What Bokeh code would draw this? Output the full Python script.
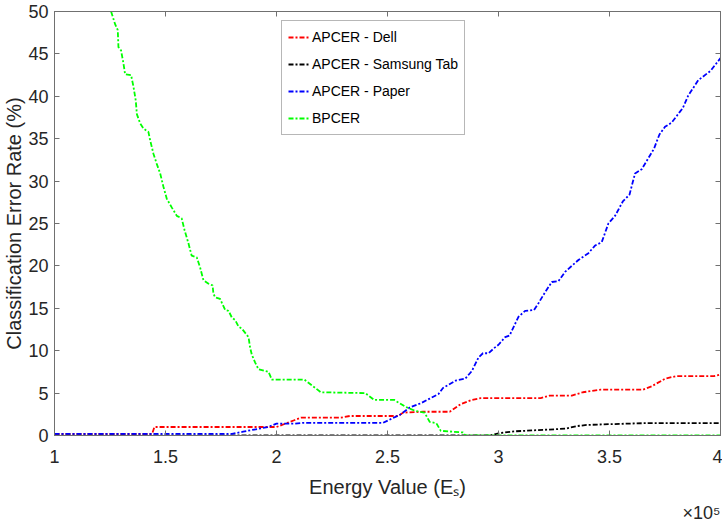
from bokeh.plotting import figure
from bokeh.models import LinearAxis, FixedTicker, CustomJSTickFormatter, Legend, LegendItem, Title, Range1d
from bokeh.embed import file_html
from bokeh.resources import INLINE

x_ticks = [1, 1.5, 2, 2.5, 3, 3.5, 4]
y_ticks = [0, 5, 10, 15, 20, 25, 30, 35, 40, 45, 50]

dell_x = [1.00, 1.44, 1.45, 2.00, 2.04, 2.08, 2.11, 2.29, 2.33, 2.55, 2.57, 2.66, 2.78, 2.83, 2.88, 2.92, 3.19, 3.23, 3.33, 3.38, 3.46, 3.65, 3.69, 3.75, 3.80, 3.97, 4.00]
dell_y = [0.2, 0.2, 1.0, 1.0, 1.4, 1.8, 2.1, 2.1, 2.3, 2.3, 2.7, 2.8, 2.8, 3.7, 4.2, 4.4, 4.4, 4.7, 4.7, 5.1, 5.4, 5.4, 5.8, 6.7, 7.0, 7.0, 7.2]

samsung_x = [1.00, 2.96, 3.00, 3.04, 3.08, 3.15, 3.30, 3.35, 3.40, 3.58, 3.65, 4.00]
samsung_y = [0.0, 0.0, 0.25, 0.4, 0.5, 0.6, 0.8, 1.1, 1.25, 1.4, 1.45, 1.45]

paper_x = [1.00, 1.80, 1.85, 1.90, 1.96, 2.00, 2.08, 2.12, 2.48, 2.52, 2.56, 2.60, 2.65, 2.69, 2.73, 2.75, 2.81, 2.85, 2.88, 2.91,
           2.93, 2.955, 2.98, 3.00, 3.03, 3.05, 3.07, 3.09, 3.12, 3.16, 3.18, 3.21, 3.24, 3.27, 3.30, 3.33, 3.36, 3.405, 3.435, 3.465,
           3.495, 3.525, 3.56, 3.59, 3.615, 3.645, 3.675, 3.70, 3.725, 3.75, 3.78, 3.815, 3.83, 3.855, 3.90, 3.955, 4.00]
paper_y = [0.2, 0.2, 0.45, 0.7, 1.0, 1.4, 1.4, 1.5, 1.5, 2.0, 2.5, 3.3, 3.8, 4.35, 4.9, 5.6, 6.5, 6.7, 7.6, 9.2,
           9.7, 9.7, 10.3, 10.7, 11.6, 11.8, 12.9, 14.0, 14.7, 14.8, 15.6, 16.9, 18.1, 18.2, 19.3, 20.0, 20.7, 21.5, 22.4, 22.8,
           25.0, 25.9, 27.6, 28.4, 30.9, 31.4, 32.7, 33.8, 35.5, 36.4, 36.9, 38.1, 38.6, 40.1, 41.9, 43.0, 44.5]

bpcer_x = [1.255, 1.273, 1.285, 1.288, 1.300, 1.311, 1.318, 1.345, 1.356, 1.366, 1.371, 1.386, 1.401, 1.423, 1.431, 1.446, 1.461,
           1.476, 1.491, 1.506, 1.528, 1.551, 1.573, 1.586, 1.604, 1.618, 1.641, 1.656, 1.671, 1.694, 1.712, 1.716, 1.724, 1.746,
           1.769, 1.784, 1.799, 1.814, 1.829, 1.844, 1.859, 1.874, 1.881, 1.889, 1.904, 1.919, 1.964, 1.979, 2.125, 2.16, 2.20,
           2.40, 2.44, 2.53, 2.58, 2.625, 2.667, 2.69, 2.72, 2.74, 2.84, 2.85, 4.00]
bpcer_y = [50.0, 48.5, 47.8, 45.8, 45.4, 43.8, 42.6, 42.5, 41.1, 39.5, 37.9, 36.8, 36.2, 35.8, 34.8, 33.2, 32.0,
           30.9, 29.3, 27.9, 26.9, 25.9, 25.6, 24.2, 22.6, 21.2, 21.0, 19.8, 18.3, 17.9, 17.7, 16.7, 16.3, 16.1,
           14.8, 14.7, 13.9, 13.6, 12.85, 12.6, 12.1, 11.6, 10.4, 9.5, 8.6, 7.8, 7.5, 6.6, 6.6, 5.9, 5.1,
           5.0, 4.2, 4.2, 3.4, 2.9, 2.7, 1.6, 1.45, 0.55, 0.36, 0.0, 0.0]

series_names = ["APCER - Dell", "APCER - Samsung Tab", "APCER - Paper", "BPCER"]
series_colors = ["#FF0000", "#000000", "#0000FF", "#00FF00"]

FONT = "Liberation Sans"
AX = "#262626"
LINE = "#707070"

p = figure(frame_width=666, frame_height=424, output_backend="svg", toolbar_location=None,
           x_range=Range1d(1, 4), y_range=Range1d(0, 50),
           min_border_left=48, min_border_top=11, min_border_right=2, min_border_bottom=0)
p.xgrid.visible = False
p.ygrid.visible = False
p.outline_line_color = LINE
p.background_fill_color = "white"
p.border_fill_color = "white"

renderers = []
for xs, ys, c in zip([dell_x, samsung_x, paper_x, bpcer_x], [dell_y, samsung_y, paper_y, bpcer_y], series_colors):
    r = p.line(xs, ys, line_color=c, line_width=1.8, line_dash="5 2 2 2")
    renderers.append(r)

def style_axis(ax, show_labels=True):
    ax.axis_line_color = LINE
    ax.major_tick_line_color = LINE
    ax.major_tick_in = 5
    ax.major_tick_out = 0
    ax.minor_tick_line_color = None
    ax.major_label_text_font = FONT
    ax.major_label_text_font_size = "18px"
    ax.major_label_text_color = AX
    ax.axis_label_text_font = FONT
    ax.axis_label_text_font_size = "20px"
    ax.axis_label_text_font_style = "normal"
    ax.axis_label_text_color = AX
    if not show_labels:
        ax.formatter = CustomJSTickFormatter(code="return ''")
        ax.major_label_standoff = 0

xf = CustomJSTickFormatter(code="return tick.toString()")
p.xaxis.ticker = FixedTicker(ticks=x_ticks)
p.xaxis.formatter = xf
p.yaxis.ticker = FixedTicker(ticks=y_ticks)
style_axis(p.xaxis[0])
style_axis(p.yaxis[0])
p.xaxis.axis_label = "Energy Value (Eₛ)"
p.yaxis.axis_label = "Classification Error Rate (%)"
p.xaxis.major_label_standoff = 14
p.xaxis.axis_label_standoff = 10
p.yaxis.major_label_standoff = 6
p.yaxis.axis_label_standoff = 0

top = LinearAxis(ticker=FixedTicker(ticks=x_ticks))
style_axis(top, show_labels=False)
right = LinearAxis(ticker=FixedTicker(ticks=y_ticks))
style_axis(right, show_labels=False)
p.add_layout(top, "above")
p.add_layout(right, "right")

items = [LegendItem(label=n, renderers=[r]) for n, r in zip(series_names, renderers)]
legend = Legend(items=items, location=(227, 300))
legend.label_text_font = FONT
legend.label_text_font_size = "14px"
legend.label_text_color = "#000000"
legend.glyph_width = 22
legend.glyph_height = 20
legend.label_height = 20
legend.label_standoff = 2
legend.spacing = 7
legend.padding = 6
legend.margin = 0
legend.border_line_color = LINE
legend.border_line_width = 1
legend.background_fill_alpha = 1
p.add_layout(legend, "center")

exp_title = Title(text="×10⁵", align="right", text_font=FONT, text_font_size="18px",
                  text_font_style="normal", text_color=AX, offset=0, standoff=0)
p.add_layout(exp_title, "below")

open("out.html", "w").write(file_html(p, INLINE))
